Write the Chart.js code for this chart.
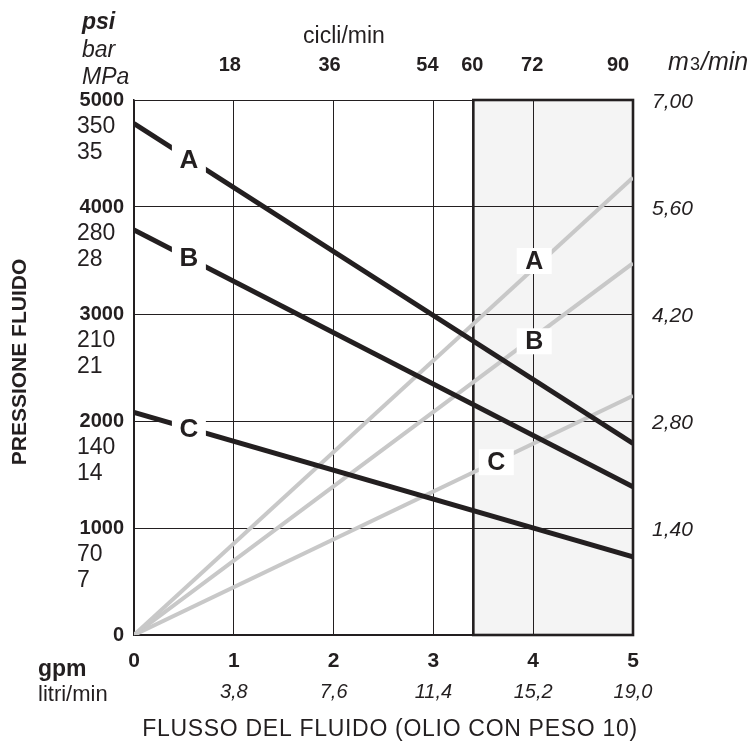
<!DOCTYPE html>
<html lang="it">
<head>
<meta charset="UTF-8">
<title>Pressione fluido / flusso del fluido</title>
<script src="https://cdn.jsdelivr.net/npm/chart.js"></script>
<style>
  body { margin: 0; background: #fff; }
  #wrap { width: 755px; height: 742px; }
</style>
</head>
<body>
<div id="wrap"><canvas id="chart"></canvas></div>
<script>
// asse x: gpm (basso), litri/min, cicli/min (alto)
const gpmTicks = [0, 1, 2, 3, 4, 5];
const litriLabels = ['', '3,8', '7,6', '11,4', '15,2', '19,0'];
const cicliLabels = ['18', '36', '54', '60', '72', '90'];
const cicliAt = [0.96, 1.96, 2.94, 3.39, 3.99, 4.85];

// asse y: psi / bar / MPa, a destra m3/min
const psiTicks = [0, 1000, 2000, 3000, 4000, 5000];
const barLabels = ['', '70', '140', '210', '280', '350'];
const mpaLabels = ['', '7', '14', '21', '28', '35'];
const m3Labels = ['', '1,40', '2,80', '4,20', '5,60', '7,00'];

// curve di pressione (nere) e di portata (grigie), valori a 0 e 5 gpm
const lineX = [0, 5];
const pressA = [4780, 1790];
const pressB = [3785, 1385];
const pressC = [2080, 730];
const portA = [0, 4275];
const portB = [0, 3475];
const portC = [0, 2235];

// zona ombreggiata (gpm)
const zona = [3.4, 5];

// etichette delle curve: [gpm, psi]
const curveNames = ['A', 'B', 'C'];
const pressLabelAt = [[0.55, 4440], [0.55, 3525], [0.55, 1925]];
const portLabelAt = [[4.01, 3495], [4.01, 2745], [3.63, 1615]];

const INK = '#231f20';
const GRAY = '#c8c8c8';
const FF = "'Liberation Sans', Arial, Helvetica, sans-serif";

const pts = vals => lineX.map((x, i) => ({ x: x, y: vals[i] }));

function txt(ctx, s, x, y, font, align, base) {
  ctx.font = font;
  ctx.textAlign = align || 'center';
  ctx.textBaseline = base || 'middle';
  ctx.fillText(s, x, y);
}

const decor = {
  id: 'decor',
  beforeDraw(chart) {
    const { ctx, chartArea: a, scales: { x } } = chart;
    ctx.save();
    ctx.fillStyle = '#f4f4f4';
    const x0 = x.getPixelForValue(zona[0]), x1 = x.getPixelForValue(zona[1]);
    ctx.fillRect(x0, a.top, x1 - x0, a.bottom - a.top);
    ctx.restore();
  },
  beforeDatasetsDraw(chart) {
    const { ctx, chartArea: a, scales: { x } } = chart;
    ctx.save();
    ctx.strokeStyle = INK;
    ctx.lineWidth = 2.6;
    const x0 = x.getPixelForValue(zona[0]), x1 = x.getPixelForValue(zona[1]);
    ctx.strokeRect(x0, a.top, x1 - x0, a.bottom - a.top);
    ctx.restore();
  },
  afterDatasetsDraw(chart) {
    const { ctx, scales: { x, y } } = chart;
    ctx.save();
    ctx.fillStyle = INK;

    // lettere sulle curve, con fondo bianco
    curveNames.forEach((n, i) => {
      let px = x.getPixelForValue(pressLabelAt[i][0]), py = y.getPixelForValue(pressLabelAt[i][1]);
      ctx.fillStyle = '#fff';
      ctx.fillRect(px - 17, py - 15, 34, 30);
      ctx.fillStyle = INK;
      txt(ctx, n, px, py + 1, 'bold 26px ' + FF);

      px = x.getPixelForValue(portLabelAt[i][0]); py = y.getPixelForValue(portLabelAt[i][1]);
      ctx.fillStyle = '#fff';
      ctx.fillRect(px - 17.5, py - 13, 35, 26);
      ctx.fillStyle = INK;
      txt(ctx, n, px, py + 1, 'bold 25px ' + FF);
    });

    // asse sinistro
    txt(ctx, 'psi', 82, 29, 'italic bold 23px ' + FF, 'left', 'alphabetic');
    txt(ctx, 'bar', 82, 57, 'italic 23px ' + FF, 'left', 'alphabetic');
    txt(ctx, 'MPa', 82, 84, 'italic 23px ' + FF, 'left', 'alphabetic');
    psiTicks.forEach((v, i) => {
      const py = y.getPixelForValue(v);
      txt(ctx, String(v), 124, py, 'bold 20px ' + FF, 'right');
      if (barLabels[i]) {
        txt(ctx, barLabels[i], 77, py + 26.5, '23px ' + FF, 'left');
        txt(ctx, mpaLabels[i], 77, py + 53, '23px ' + FF, 'left');
      }
      if (m3Labels[i]) txt(ctx, m3Labels[i], 652, py + 2, 'italic 21px ' + FF, 'left');
    });
    ctx.save();
    ctx.translate(20, 362);
    ctx.rotate(-Math.PI / 2);
    txt(ctx, 'PRESSIONE FLUIDO', 0, 0, 'bold 21px ' + FF);
    ctx.restore();

    // asse destro: unità
    txt(ctx, 'm', 668, 70, 'italic 25px ' + FF, 'left', 'alphabetic');
    txt(ctx, '3', 690, 70, '18px ' + FF, 'left', 'alphabetic');
    txt(ctx, '/min', 701, 70, 'italic 25px ' + FF, 'left', 'alphabetic');

    // asse basso
    gpmTicks.forEach((v, i) => {
      const px = x.getPixelForValue(v);
      txt(ctx, String(v), px, 661, 'bold 21px ' + FF);
      if (litriLabels[i]) txt(ctx, litriLabels[i], px, 692, 'italic 20px ' + FF);
    });
    txt(ctx, 'gpm', 38, 676, 'bold 23px ' + FF, 'left', 'alphabetic');
    txt(ctx, 'litri/min', 38, 701, '22px ' + FF, 'left', 'alphabetic');
    ctx.letterSpacing = '0.7px';
    txt(ctx, 'FLUSSO DEL FLUIDO (OLIO CON PESO 10)', 390, 730, '23px ' + FF);
    ctx.letterSpacing = '0px';

    // asse alto: cicli/min
    txt(ctx, 'cicli/min', 344, 43, '23px ' + FF, 'center', 'alphabetic');
    cicliLabels.forEach((s, i) => {
      txt(ctx, s, x.getPixelForValue(cicliAt[i]), 65, 'bold 20px ' + FF);
    });
    ctx.restore();
  }
};

const dark = (vals) => ({ data: pts(vals), borderColor: INK, borderWidth: 5, order: 0 });
const light = (vals) => ({ data: pts(vals), borderColor: GRAY, borderWidth: 4, order: 1 });

new Chart(document.getElementById('chart'), {
  type: 'line',
  data: {
    datasets: [dark(pressA), dark(pressB), dark(pressC), light(portA), light(portB), light(portC)]
  },
  options: {
    responsive: true,
    maintainAspectRatio: false,
    animation: false,
    layout: { padding: { left: 134, right: 122, top: 100, bottom: 107 } },
    elements: { point: { radius: 0 }, line: { tension: 0, fill: false, borderCapStyle: 'butt' } },
    plugins: { legend: { display: false }, tooltip: { enabled: false } },
    scales: {
      x: {
        type: 'linear', min: 0, max: 5,
        ticks: { display: false, stepSize: 1 },
        grid: { color: INK, lineWidth: 1, drawTicks: false },
        border: { color: INK, width: 1.5 }
      },
      y: {
        type: 'linear', min: 0, max: 5000,
        ticks: { display: false, stepSize: 1000 },
        grid: { color: INK, lineWidth: 1, drawTicks: false },
        border: { color: INK, width: 1.5 }
      }
    }
  },
  plugins: [decor]
});
</script>
</body>
</html>
